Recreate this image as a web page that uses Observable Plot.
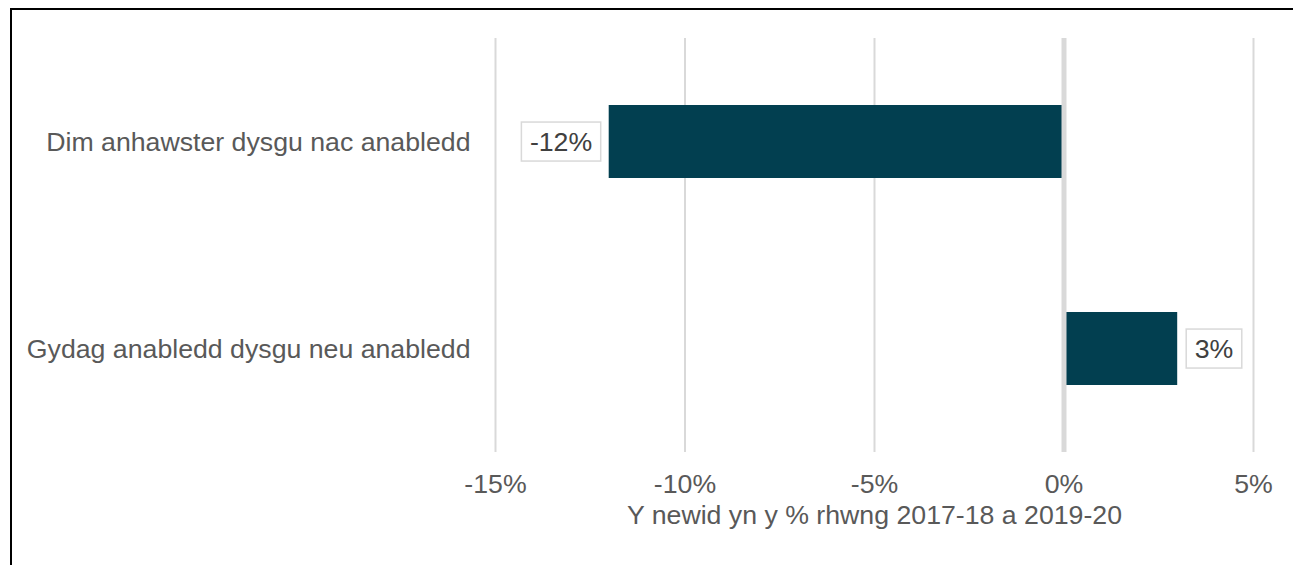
<!DOCTYPE html>
<html><head><meta charset="utf-8">
<script src="https://cdn.jsdelivr.net/npm/d3@7"></script>
<script src="https://cdn.jsdelivr.net/npm/@observablehq/plot@0.6"></script>
<style>
html,body{margin:0;padding:0;background:#fff;overflow:hidden;}
#chart{position:absolute;left:0;top:0;}
#frame{position:absolute;left:10px;top:8px;width:2000px;height:2000px;border-top:2px solid #000;border-left:2px solid #000;box-sizing:border-box;pointer-events:none}
</style></head><body>
<div id="chart"></div><div id="frame"></div>
<script>
const categories = ["Dim anhawster dysgu nac anabledd", "Gydag anabledd dysgu neu anabledd"];
const values = [-12, 3];
const tickValues = [-15, -10, -5, 0, 5];
const axisLabel = "Y newid yn y % rhwng 2017-18 a 2019-20";

const data = categories.map((c, i) => ({category: c, value: values[i], label: values[i] + "%"}));
const font = "'Liberation Sans', Arial, sans-serif";
const fs = 26.7;

const plot = Plot.plot({
  width: 1293, height: 565,
  marginLeft: 495, marginRight: 40, marginTop: 38, marginBottom: 113,
  style: {fontFamily: font, background: "#fff", overflow: "visible"},
  x: {domain: [-15, 5]},
  y: {domain: categories, paddingInner: 0.647, paddingOuter: 0.3235},
  marks: [
    Plot.ruleX(tickValues.filter(t => t !== 0), {stroke: "#d9d9d9", strokeWidth: 2}),
    Plot.barX(data, {y: "category", x: "value", fill: "#023f50"}),
    Plot.ruleX([0], {stroke: "#d9d9d9", strokeWidth: 5}),
    Plot.axisX({ticks: tickValues, tickFormat: d => d + "%", tickSize: 0, tickPadding: 22, fontSize: fs, fill: "#595959", label: null}),
    Plot.axisY({tickSize: 0, tickPadding: 25, fontSize: fs, fill: "#595959", label: null}),
    Plot.text([axisLabel], {frameAnchor: "bottom", dy: 71.5, fontSize: fs, fill: "#595959"}),
    Plot.text(data.filter(d => d.value < 0), {y: "category", x: "value", text: "label", textAnchor: "end", dx: -17, fontSize: fs, fill: "#404040"}),
    Plot.text(data.filter(d => d.value >= 0), {y: "category", x: "value", text: "label", textAnchor: "start", dx: 17, fontSize: fs, fill: "#404040"})
  ]
});
document.getElementById("chart").appendChild(plot);

// white boxes with light border behind the data labels
const labelSet = new Set(data.map(d => d.label));
plot.querySelectorAll('g[aria-label="text"] text').forEach(t => {
  if (!labelSet.has(t.textContent)) return;
  const bb = t.getBBox();
  const rect = document.createElementNS("http://www.w3.org/2000/svg", "rect");
  rect.setAttribute("x", bb.x - 8.5);
  rect.setAttribute("y", bb.y + bb.height / 2 - 19.5);
  rect.setAttribute("width", bb.width + 17);
  rect.setAttribute("height", 39);
  rect.setAttribute("fill", "#fff");
  rect.setAttribute("stroke", "#d9d9d9");
  rect.setAttribute("stroke-width", 1.5);
  const tr = t.getAttribute("transform");
  if (tr) rect.setAttribute("transform", tr);
  t.parentNode.insertBefore(rect, t);
});
</script>
</body></html>
